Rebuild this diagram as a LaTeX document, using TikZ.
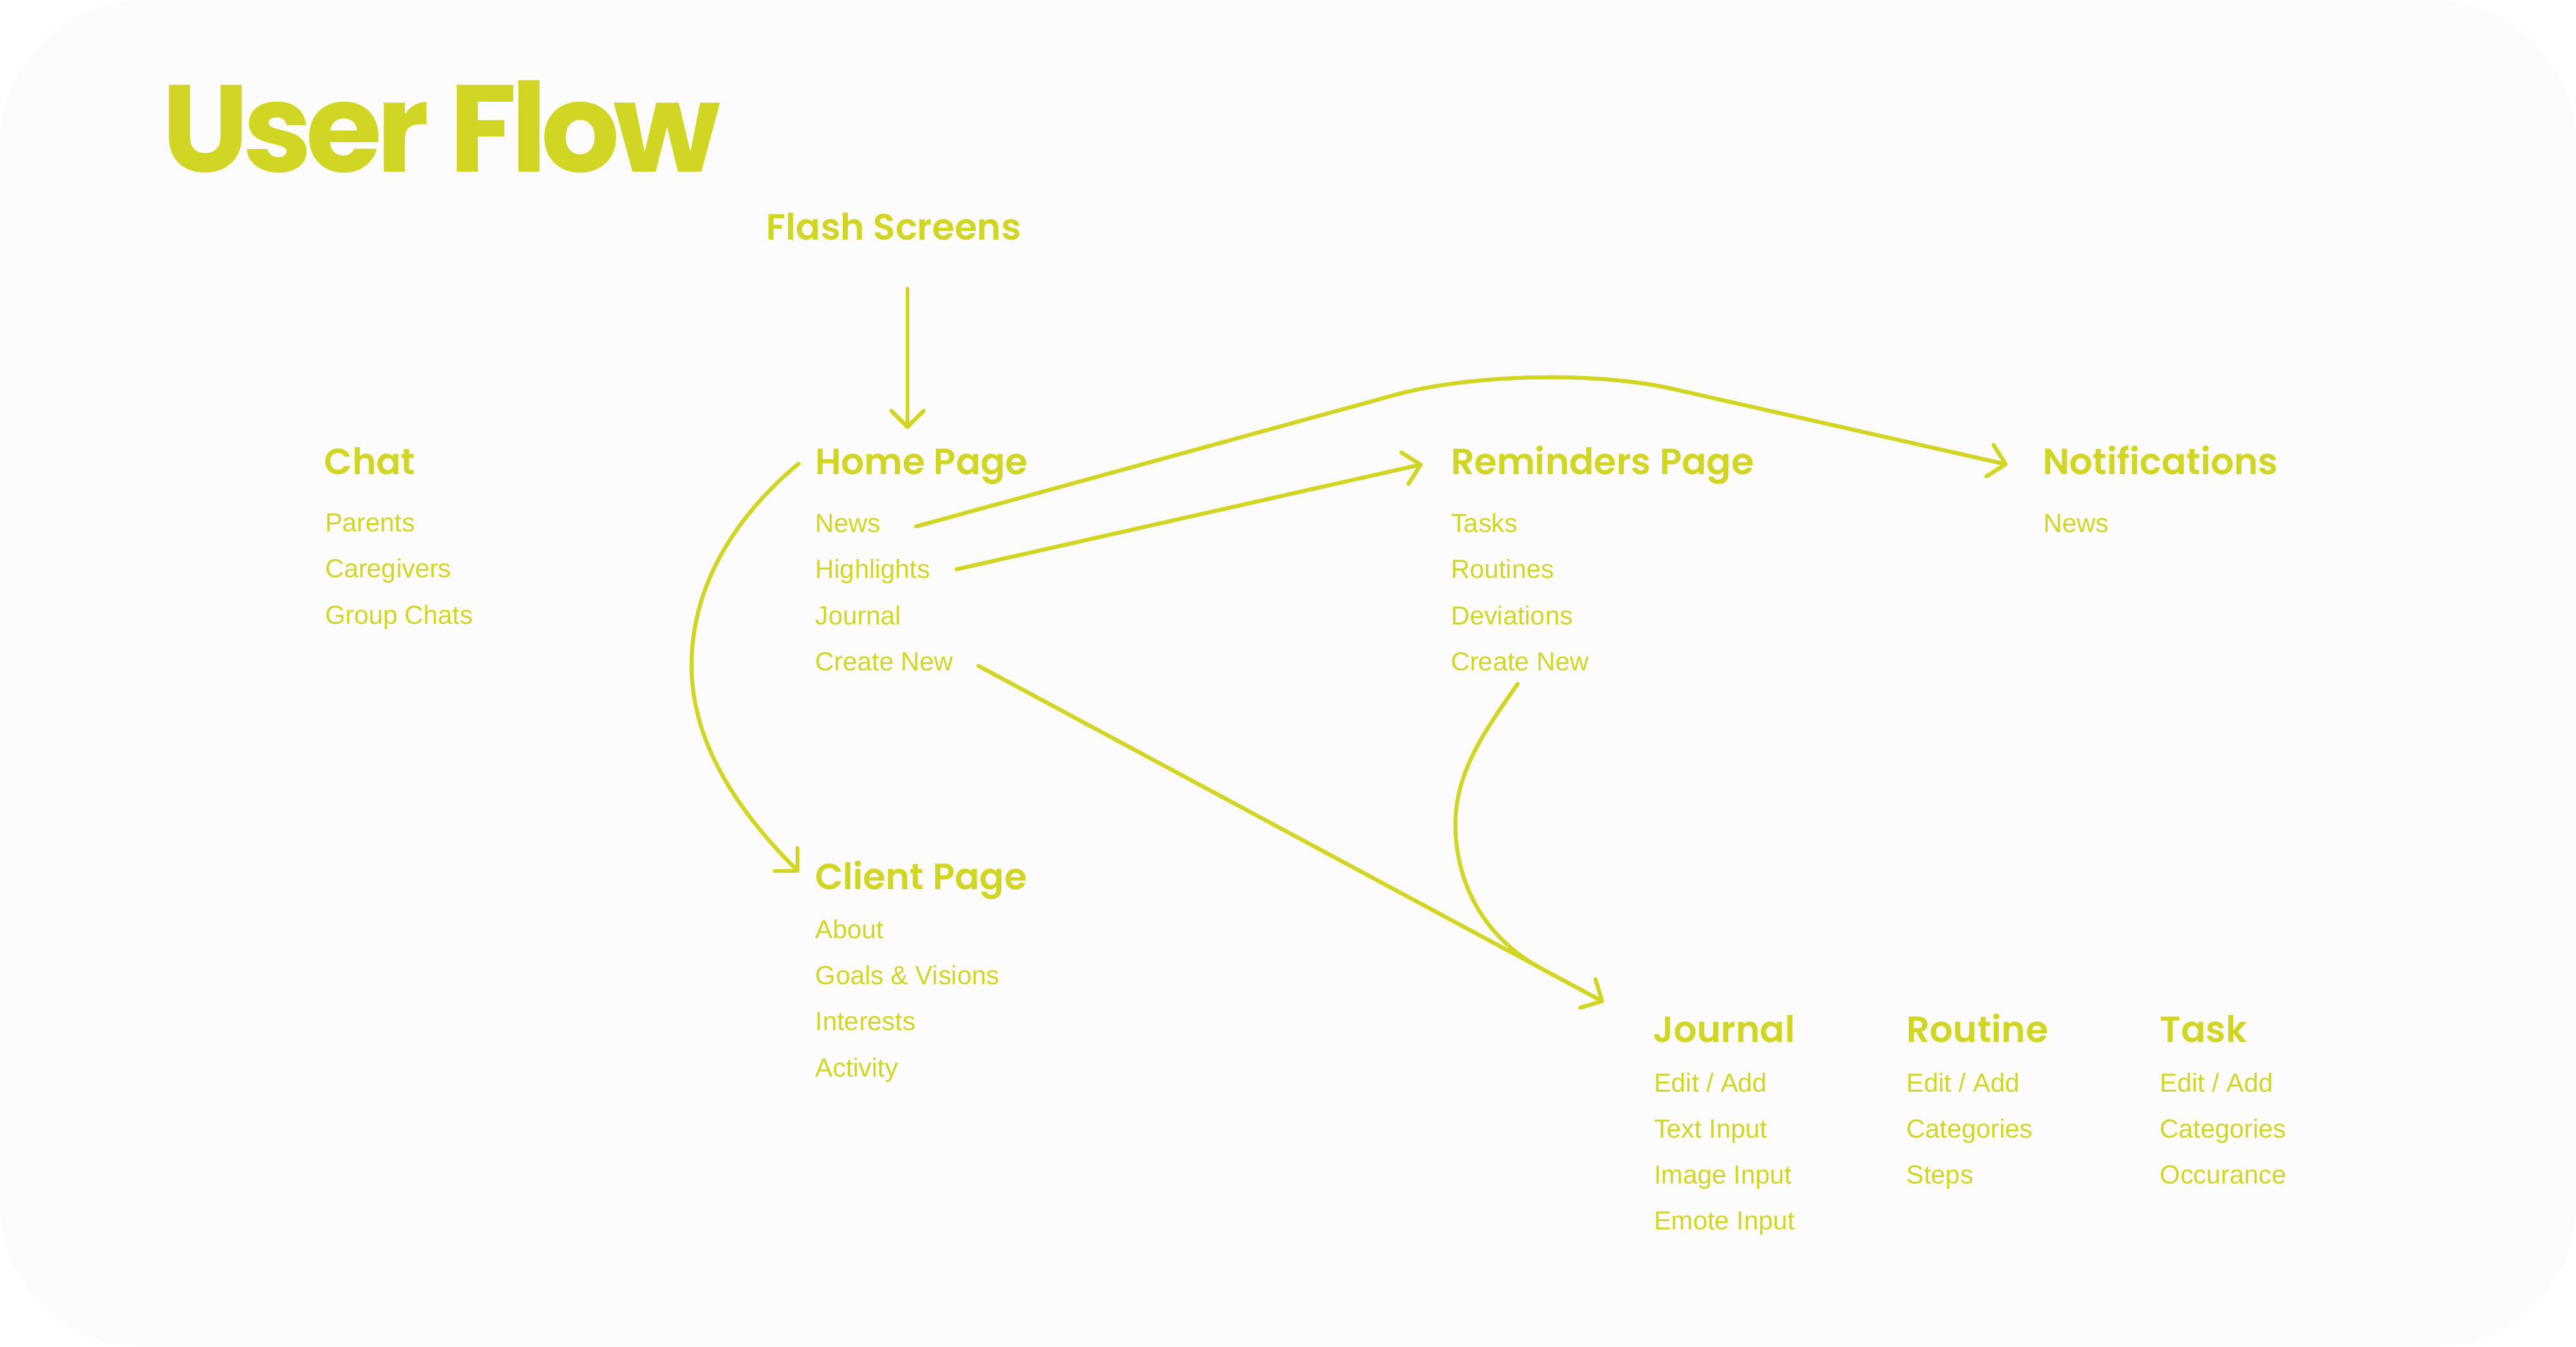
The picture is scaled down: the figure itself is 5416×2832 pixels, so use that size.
\documentclass[tikz,border=0pt]{standalone}
\usepackage{fontspec}
\setmainfont{Liberation Sans}
\newfontfamily\headfont{Poppins}[UprightFont={* SemiBold}]
\newfontfamily\titlefont{Poppins}[UprightFont={* Bold}, LetterSpace=-5]
\usetikzlibrary{arrows.meta}
\definecolor{lime}{RGB}{209,213,36}
\definecolor{bgc}{RGB}{252,252,252}
\begin{document}
\begin{tikzpicture}[x=0.01cm,y=-0.01cm,
  titletext/.style={anchor=base west, inner sep=0pt, text=lime, font=\titlefont\fontsize{74}{78}\selectfont},
  head/.style={anchor=base west, inner sep=0pt, text=lime, font=\headfont\fontsize{21.8}{25}\selectfont},
  item/.style={anchor=base west, inner sep=0pt, text=lime, font=\fontsize{15.6}{19}\selectfont},
  flow/.style={draw=lime, line width=2.4pt, line cap=round, line join=round},
  tip/.style={-{Straight Barb[length=0.34cm,width=0.68cm,line cap=round,line join=round]}}]
\fill[white] (0,0) rectangle (5416,2832);
\useasboundingbox (0,0) rectangle (5416,2832);
\fill[bgc, rounded corners=3cm] (0,0) rectangle (5416,2832);

\node[titletext] (title) at (340,362) {User Flow};
\node[head] (flash) at (1611,504) {Flash Screens};

\node[head] (chat) at (681,998) {Chat};
\node[item] (parents) at (683,1118) {Parents};
\node[item] (caregivers) at (683,1215) {Caregivers};
\node[item] (groupchats) at (683,1312) {Group Chats};

\node[head] (home) at (1713,998) {Home Page};
\node[item] (hnews) at (1714,1119) {News};
\node[item] (hhigh) at (1714,1216) {Highlights};
\node[item] (hjournal) at (1714,1313) {Journal};
\node[item] (hcreate) at (1714,1410) {Create New};

\node[head] (rem) at (3050,998) {Reminders Page};
\node[item] (rtasks) at (3050,1119) {Tasks};
\node[item] (rroutines) at (3050,1216) {Routines};
\node[item] (rdev) at (3050,1313) {Deviations};
\node[item] (rcreate) at (3050,1410) {Create New};

\node[head] (notif) at (4294,998) {Notifications};
\node[item] (nnews) at (4296,1119) {News};

\node[head] (client) at (1713,1870) {Client Page};
\node[item] (cabout) at (1714,1974) {About};
\node[item] (cgoals) at (1714,2070) {Goals \& Visions};
\node[item] (cinter) at (1714,2167) {Interests};
\node[item] (cact) at (1714,2264) {Activity};

\node[head] (journal) at (3475,2192) {Journal};
\node[item] (jedit) at (3477,2296) {Edit / Add};
\node[item] (jtext) at (3477,2392) {Text Input};
\node[item] (jimage) at (3477,2489) {Image Input};
\node[item] (jemote) at (3477,2586) {Emote Input};

\node[head] (routine) at (4008,2192) {Routine};
\node[item] (redit) at (4008,2296) {Edit / Add};
\node[item] (rcat) at (4008,2392) {Categories};
\node[item] (rsteps) at (4008,2489) {Steps};

\node[head] (task) at (4541,2192) {Task};
\node[item] (tedit) at (4541,2296) {Edit / Add};
\node[item] (tcat) at (4541,2392) {Categories};
\node[item] (tocc) at (4541,2489) {Occurance};

% connector end points
\coordinate (flashOut) at (1908,607);
\coordinate (homeIn) at (1908,902);
\coordinate (homeOut) at (1679,975);
\coordinate (clientIn) at (1680,1834);
\coordinate (newsOut) at (1926,1107);
\coordinate (bend) at (3222,751);
\coordinate (notifIn) at (4221,977);
\coordinate (highOut) at (2011,1197);
\coordinate (remIn) at (2991,976);
\coordinate (createOut) at (2057,1400);
\coordinate (journalIn) at (3372,2107);
\coordinate (rcreateOut) at (3191,1438);
\coordinate (merge) at (3240,2036);

\draw[flow,tip] (flashOut) -- (homeIn);
\draw[flow,tip] (homeOut) .. controls (1548,1084) and (1454,1229) .. (1454,1399)
  .. controls (1454,1569) and (1560,1714) .. (clientIn);
\draw[flow,tip,rounded corners=3cm] (newsOut) -- (bend) -- (notifIn);
\draw[flow,tip] (highOut) -- (remIn);
\draw[flow,tip] (createOut) -- (journalIn);
\draw[flow] (rcreateOut) .. controls (3122,1536) and (3060,1623) .. (3060,1733)
  .. controls (3060,1863) and (3126,1975) .. (merge);
\end{tikzpicture}
\end{document}
